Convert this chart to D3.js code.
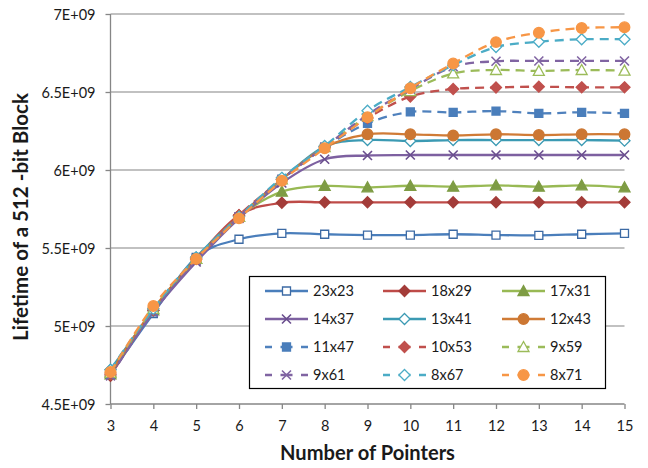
<!DOCTYPE html>
<html>
<head>
<meta charset="utf-8">
<title></title>
<script src="https://d3js.org/d3.v7.min.js"></script>
<style>
body { margin: 0; background: #fff; }
text { font-family: Lato, "Open Sans", sans-serif; fill: #1a1a1a; }
</style>
</head>
<body>
<script>
// data (lifetime in units of 1E+09)
var pointers = [3, 4, 5, 6, 7, 8, 9, 10, 11, 12, 13, 14, 15];
var yTicks = [4.5e9, 5e9, 5.5e9, 6e9, 6.5e9, 7e9];

var s23x23 = [4.69, 5.08, 5.44, 5.556, 5.594, 5.588, 5.583, 5.583, 5.588, 5.583, 5.581, 5.588, 5.594];
var s18x29 = [4.68, 5.10, 5.43, 5.71, 5.790, 5.793, 5.793, 5.793, 5.793, 5.793, 5.793, 5.793, 5.793];
var s17x31 = [4.69, 5.10, 5.43, 5.70, 5.861, 5.898, 5.889, 5.899, 5.893, 5.902, 5.893, 5.902, 5.889];
var s14x37 = [4.69, 5.09, 5.41, 5.69, 5.917, 6.069, 6.093, 6.096, 6.096, 6.096, 6.096, 6.096, 6.096];
var s13x41 = [4.72, 5.10, 5.44, 5.70, 5.940, 6.150, 6.192, 6.186, 6.192, 6.192, 6.192, 6.192, 6.188];
var s12x43 = [4.70, 5.11, 5.43, 5.70, 5.940, 6.145, 6.229, 6.229, 6.221, 6.229, 6.224, 6.229, 6.229];
var s11x47 = [4.69, 5.09, 5.43, 5.70, 5.940, 6.145, 6.299, 6.372, 6.369, 6.378, 6.363, 6.370, 6.363];
var s10x53 = [4.69, 5.10, 5.43, 5.71, 5.940, 6.147, 6.333, 6.471, 6.519, 6.529, 6.534, 6.530, 6.530];
var s9x59  = [4.70, 5.11, 5.43, 5.70, 5.940, 6.147, 6.346, 6.506, 6.619, 6.641, 6.635, 6.641, 6.637];
var s9x61  = [4.68, 5.09, 5.42, 5.70, 5.940, 6.147, 6.353, 6.519, 6.662, 6.697, 6.699, 6.699, 6.699];
var s8x67  = [4.72, 5.11, 5.44, 5.70, 5.950, 6.154, 6.380, 6.532, 6.672, 6.788, 6.822, 6.838, 6.838];
var s8x71  = [4.705, 5.128, 5.430, 5.690, 5.931, 6.139, 6.338, 6.524, 6.683, 6.820, 6.880, 6.910, 6.915];

var names = ["23x23", "18x29", "17x31", "14x37", "13x41", "12x43",
             "11x47", "10x53", "9x59", "9x61", "8x67", "8x71"];
var values = [s23x23, s18x29, s17x31, s14x37, s13x41, s12x43,
              s11x47, s10x53, s9x59, s9x61, s8x67, s8x71];

// look of each series (line colour, marker, dashed)
var styles = [
  {line: "#4A7EBB", mk: "square",   fill: "#fff",    stroke: "#3C6AA4", dash: false},
  {line: "#BE4B48", mk: "diamond",  fill: "#A33C39", stroke: "#A33C39", dash: false},
  {line: "#98B954", mk: "triangle", fill: "#7E9C44", stroke: "#7E9C44", dash: false},
  {line: "#7D60A0", mk: "x",        fill: "none",    stroke: "#6A4E8E", dash: false},
  {line: "#3B9AB3", mk: "diamond",  fill: "#fff",    stroke: "#3B9AB3", dash: false},
  {line: "#D07B36", mk: "circle",   fill: "#CC7733", stroke: "#CC7733", dash: false},
  {line: "#4F81BD", mk: "square",   fill: "#4A7EBB", stroke: "#4A7EBB", dash: true},
  {line: "#C0504D", mk: "diamond",  fill: "#C0504D", stroke: "#C0504D", dash: true},
  {line: "#9BBB59", mk: "triangle", fill: "#fff",    stroke: "#9BBB59", dash: true},
  {line: "#8064A2", mk: "x",        fill: "none",    stroke: "#8064A2", dash: true},
  {line: "#4BACC6", mk: "diamond",  fill: "#fff",    stroke: "#4BACC6", dash: true},
  {line: "#F79646", mk: "circle",   fill: "#F79646", stroke: "#F79646", dash: true}
];

var width = 648, height = 468;
var x = d3.scaleLinear().domain([3, 15]).range([110.5, 624.5]);
var y = d3.scaleLinear().domain([4.5e9, 7e9]).range([404, 14]);

var svg = d3.select("body").append("svg")
    .attr("width", width)
    .attr("height", height);

// pick a font size so a sample string comes out at the width seen in the picture
function fitSize(sample, targetW, weight){
  var t = svg.append("text").style("font-size", "20px")
             .style("font-weight", weight || "normal").text(sample);
  var w = t.node().getComputedTextLength();
  t.remove();
  return 20 * targetW / w;
}
var tickSize = fitSize("6.5E+09", 54);
var legendSize = fitSize("23x23", 41);
var xTitleSize = fitSize("Number of Pointers", 175, "bold");
var yTitleSize = fitSize("Lifetime of a 512 -bit Block", 248, "bold");

//gridlines
svg.selectAll(".grid")
   .data(yTicks.slice(1))
   .enter().append("line")
   .attr("class", "grid")
   .attr("x1", x(3)).attr("x2", x(15))
   .attr("y1", function(d){ return y(d); })
   .attr("y2", function(d){ return y(d); })
   .attr("stroke", "#ADADAD")
   .attr("stroke-width", 1.3);

//axes
var yAxis = d3.axisLeft(y).tickValues(yTicks).tickSize(5).tickPadding(10)
    .tickFormat(function(v){ return (v / 1e9) + "E+09"; });
var xAxis = d3.axisBottom(x).tickValues(pointers).tickSize(5).tickPadding(12)
    .tickFormat(d3.format("d"));

var gy = svg.append("g").attr("transform", "translate(" + x(3) + ",0)").call(yAxis);
var gx = svg.append("g").attr("transform", "translate(0," + y(4.5e9) + ")").call(xAxis);
[gx, gy].forEach(function(g){
  g.select(".domain").attr("stroke", "#868686").attr("stroke-width", 1.3);
  g.selectAll(".tick line").attr("stroke", "#868686").attr("stroke-width", 1.3);
  g.selectAll(".tick text").style("font-size", tickSize + "px")
   .style("font-family", "Lato, 'Open Sans', sans-serif").attr("fill", "#1a1a1a");
});
gy.selectAll(".tick text").attr("dy", "0.36em");
gx.select(".domain").attr("d", "M" + x(3) + ",0H" + x(15));
gy.select(".domain").attr("d", "M0," + y(7e9) + "V" + y(4.5e9));

//axis titles
svg.append("text")
   .attr("x", 367.5).attr("y", 459.5)
   .attr("text-anchor", "middle")
   .style("font-size", xTitleSize + "px").style("font-weight", "bold")
   .text("Number of Pointers");
svg.append("text")
   .attr("transform", "translate(28,217) rotate(-90)")
   .attr("text-anchor", "middle")
   .style("font-size", yTitleSize + "px").style("font-weight", "bold")
   .text("Lifetime of a 512 -bit Block");

//marker shapes
function markerPath(type){
  if (type == "square") return "M-4,-4H4V4H-4Z";
  if (type == "diamond") return "M0,-5.5L5.5,0L0,5.5L-5.5,0Z";
  if (type == "triangle") return "M0,-5.5L5.5,4.5H-5.5Z";
  if (type == "x") return "M-4.5,-4.5L4.5,4.5M-4.5,4.5L4.5,-4.5";
  return d3.symbol().type(d3.symbolCircle).size(88)();
}

var line = d3.line()
    .x(function(d){ return x(d.x); })
    .y(function(d){ return y(d.v * 1e9); })
    .curve(d3.curveCardinal.tension(0));

var series = names.map(function(n, i){
  return {name: n, st: styles[i], pts: pointers.map(function(p, j){ return {x: p, v: values[i][j]}; })};
});

var g = svg.selectAll(".series")
   .data(series)
   .enter().append("g")
   .attr("class", "series");

g.append("path")
 .attr("d", function(d){ return line(d.pts); })
 .attr("fill", "none")
 .attr("stroke", function(d){ return d.st.line; })
 .attr("stroke-width", 2.3)
 .attr("stroke-dasharray", function(d){ return d.st.dash ? "9,6" : null; });

g.each(function(d){
  d3.select(this).selectAll(".mk")
    .data(d.pts)
    .enter().append("path")
    .attr("class", "mk")
    .attr("transform", function(p){ return "translate(" + x(p.x) + "," + y(p.v * 1e9) + ")"; })
    .attr("d", markerPath(d.st.mk))
    .attr("fill", d.st.fill)
    .attr("stroke", d.st.stroke)
    .attr("stroke-width", d.st.mk == "x" ? 1.6 : 1.3);
});

//legend
var lg = svg.append("g");
lg.append("rect")
  .attr("x", 249.5).attr("y", 276.5)
  .attr("width", 356).attr("height", 112)
  .attr("fill", "#fff").attr("stroke", "#000").attr("stroke-width", 1.2);

var colX = [265, 383, 502];
var rowY = [291, 319, 347, 375];

var item = lg.selectAll(".item")
  .data(series)
  .enter().append("g")
  .attr("class", "item")
  .attr("transform", function(d, i){ return "translate(" + colX[i % 3] + "," + rowY[Math.floor(i / 3)] + ")"; });

item.append("line")
  .attr("x1", 0).attr("x2", 43)
  .attr("stroke", function(d){ return d.st.line; })
  .attr("stroke-width", 2.3)
  .attr("stroke-dasharray", function(d){ return d.st.dash ? "7,8.5,12,8.5,7" : null; });
item.append("path")
  .attr("transform", "translate(21.5,0)")
  .attr("d", function(d){ return markerPath(d.st.mk); })
  .attr("fill", function(d){ return d.st.fill; })
  .attr("stroke", function(d){ return d.st.stroke; })
  .attr("stroke-width", function(d){ return d.st.mk == "x" ? 1.6 : 1.3; });
item.append("text")
  .attr("x", 48).attr("dy", "0.36em")
  .style("font-size", legendSize + "px")
  .text(function(d){ return d.name; });
</script>
</body>
</html>
